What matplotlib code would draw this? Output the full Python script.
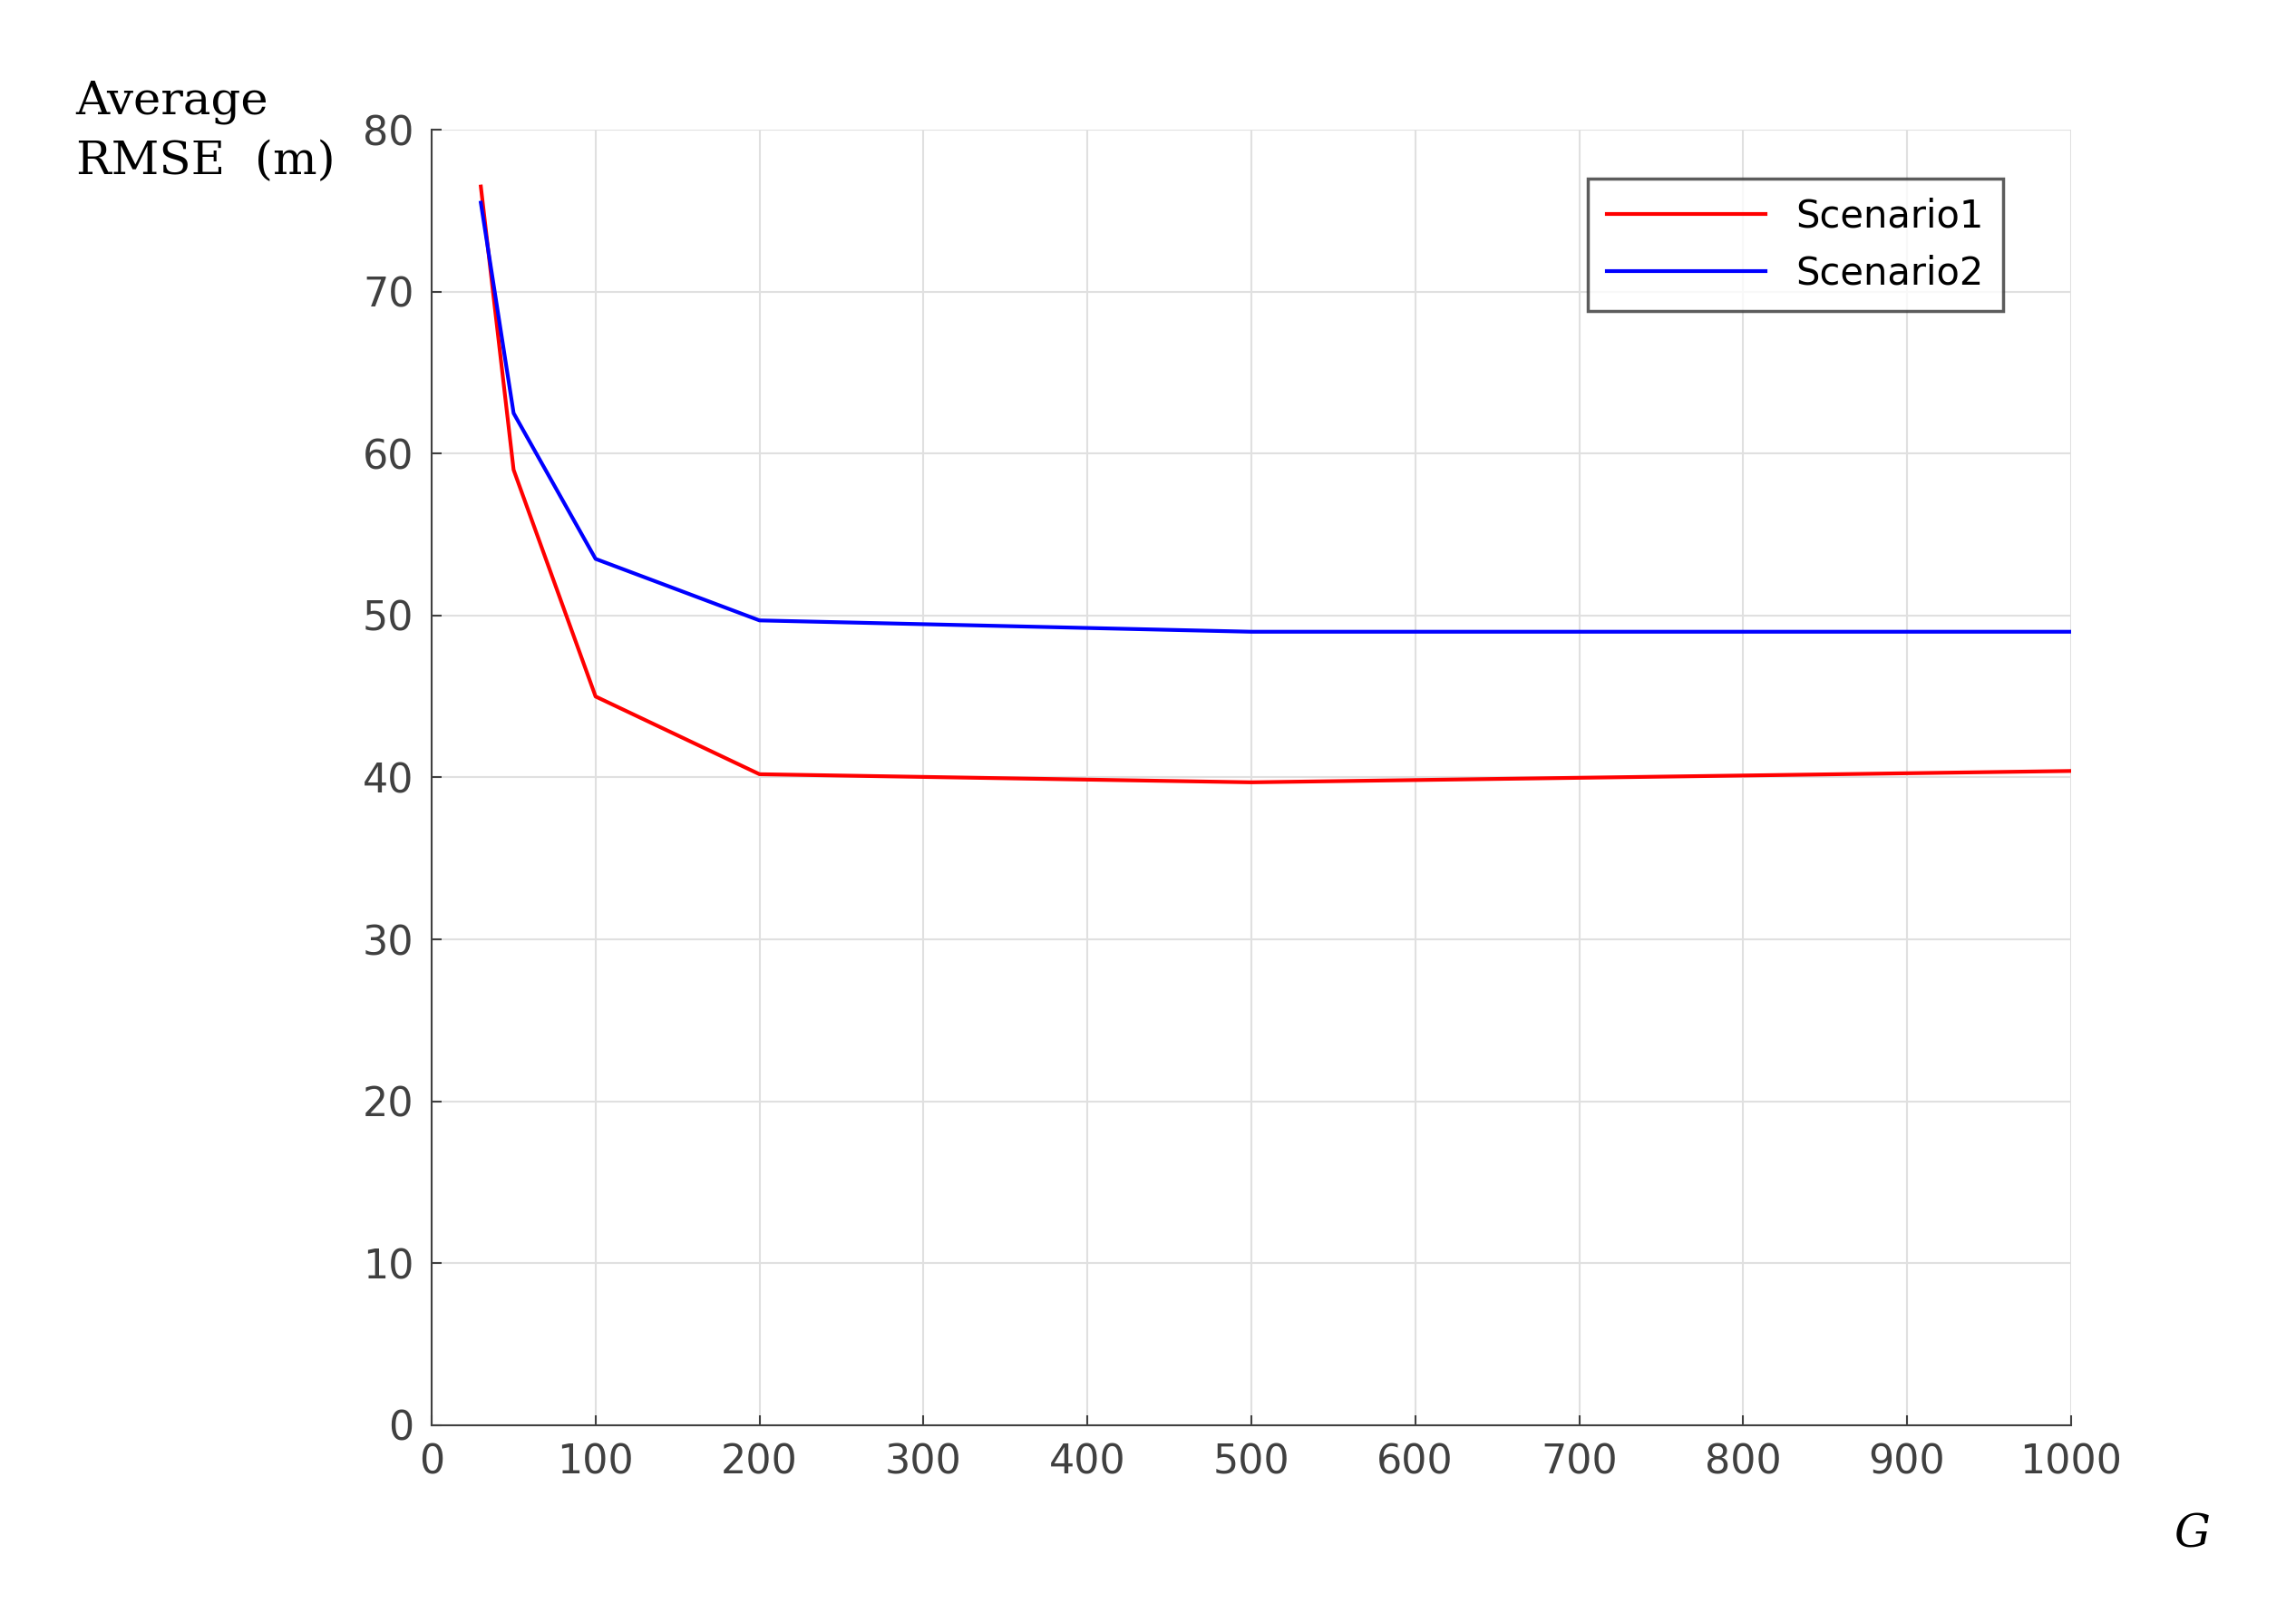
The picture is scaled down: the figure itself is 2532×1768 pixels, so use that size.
import matplotlib.pyplot as plt

g = [30, 50, 100, 200, 500, 1000]
scenario1 = [76.5, 59.0, 45.0, 40.2, 39.7, 40.4]
scenario2 = [75.5, 62.5, 53.5, 49.7, 49.0, 49.0]
xticks = list(range(0, 1001, 100))
yticks = list(range(0, 81, 10))

fig = plt.figure(figsize=(25.32, 17.68), dpi=100)
ax = fig.add_axes([0.188, 0.111, 0.714, 0.808])

ax.plot(g, scenario1, color='#ff0000', lw=3, label='Scenario1')
ax.plot(g, scenario2, color='#0000ff', lw=3, label='Scenario2')

ax.set_xlim(0, 1000)
ax.set_ylim(0, 80)
ax.set_xticks(xticks)
ax.set_yticks(yticks)
ax.tick_params(labelsize=32, colors='#404040', length=8, width=1.5, direction='in', pad=14)
ax.grid(True, color='#e0e0e0', lw=1.5)
for s in ax.spines.values():
    s.set_color('#404040')
    s.set_linewidth(1.5)
ax.spines['top'].set_visible(False)
ax.spines['right'].set_visible(False)

leg = ax.legend(loc='upper right', fontsize=30, fancybox=False, edgecolor='#333333',
                handlelength=4.2, borderpad=0.5, bbox_to_anchor=(0.97, 0.977))
leg.get_frame().set_linewidth(2.5)

fig.text(0.033, 0.885, 'Average\nRMSE  (m)', fontsize=37, family='DejaVu Serif',
         va='bottom', ha='left', linespacing=1.45)
fig.text(0.947, 0.035, 'G', fontsize=36, family='DejaVu Serif', style='italic')

fig.savefig('out.png', dpi=100)
